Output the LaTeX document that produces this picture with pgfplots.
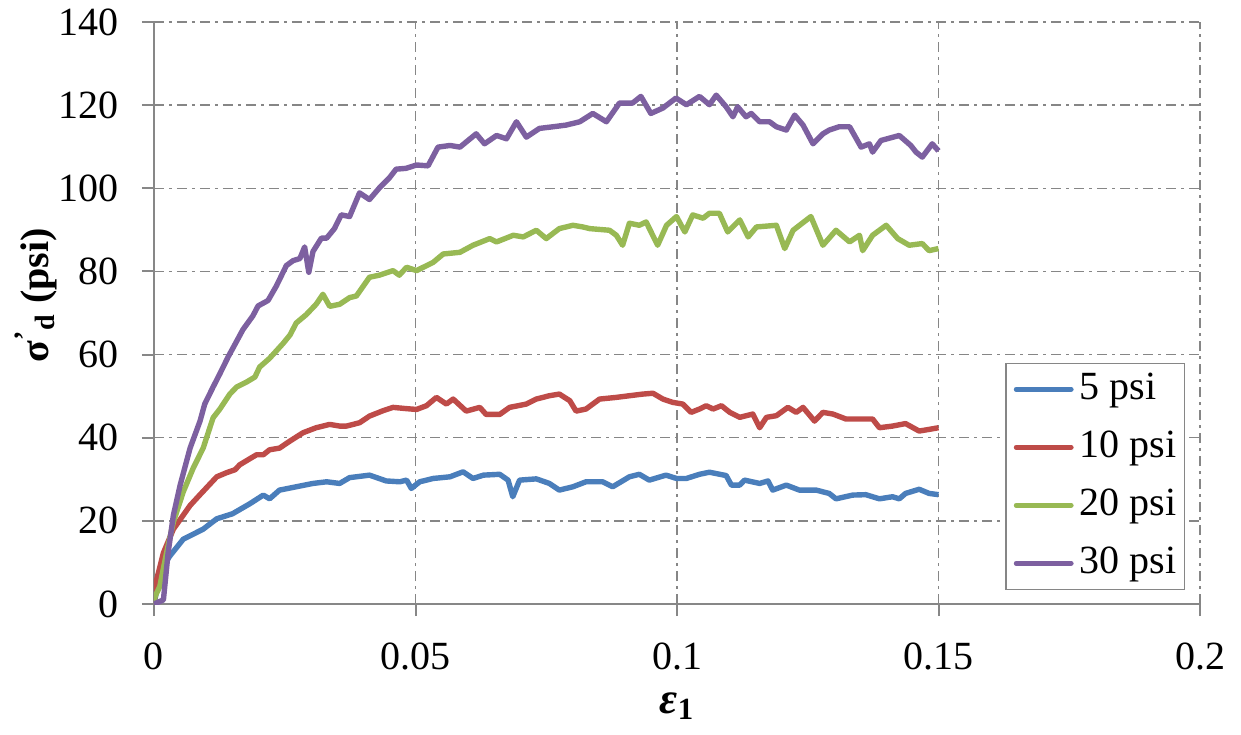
\documentclass[border=0pt]{standalone}
\usepackage{fontspec}
\setmainfont{Liberation Serif}
\usepackage{pgfplots}
\pgfplotsset{compat=1.18}
\definecolor{cblue}{HTML}{4A7EBB}
\definecolor{cred}{HTML}{BE4B48}
\definecolor{cgreen}{HTML}{98B954}
\definecolor{cpurple}{HTML}{7D60A0}
\definecolor{gridgray}{HTML}{868686}
\definecolor{axisgray}{HTML}{878787}
\begin{document}
\begin{tikzpicture}
\begin{axis}[
  at={(0,0)}, anchor=south west,
  scale only axis, width=523pt, height=291pt,
  xmin=0, xmax=0.2, ymin=0, ymax=140,
  xtick={0,0.05,0.1,0.15,0.2}, xticklabels={0,0.05,0.1,0.15,0.2},
  ytick={0,20,40,60,80,100,120,140},
  scaled x ticks=false,
  axis x line*=bottom, axis y line*=left,
  axis line style={draw=axisgray, line width=1pt},
  tick align=outside, major tick length=6pt,
  tick style={draw=axisgray, line width=1pt},
  grid=major,
  grid style={draw=gridgray, line width=0.65pt, dash pattern=on 5pt off 2.5pt on 1.5pt off 2.5pt},
  /pgf/number format/assume math mode=true,
  tick label style={font=\fontsize{20}{24}\selectfont},
  yticklabel style={xshift=-8pt},
  xticklabel style={yshift=-10pt},
  label style={font=\fontsize{20}{24}\selectfont\bfseries},
  xlabel={\fontsize{22}{24}\selectfont\textit{ε}\textsubscript{1}},
  ylabel={σ\textsuperscript{'}\textsubscript{d} (psi)},
  xlabel style={at={(axis description cs:0.5,-0.175)}, anchor=center},
  ylabel style={at={(axis description cs:-0.113,0.53)}, anchor=center, rotate=0},
  legend cell align=left,
  legend image code/.code={\draw[#1, line width=2.4pt, line cap=round] (0pt,0pt) -- (27.5pt,0pt);},
  legend style={at={(0.9857,0.024)}, anchor=south east, draw=gridgray, line width=0.75pt,
    fill=white, font=\fontsize{20}{24}\selectfont, inner xsep=4pt, inner ysep=4pt,
    nodes={inner sep=0pt, text height=14pt, text depth=4pt}, row sep=11pt,
    /tikz/every odd column/.append style={column sep=3pt}},
  every axis plot/.append style={line width=2.7pt, line join=round},
]
\addplot[cblue] coordinates {
(0,0) (0.0008,5) (0.0015,8.5) (0.003,11.5) (0.0056,15.6) (0.0094,18) (0.012,20.5) (0.015,21.7)
(0.0183,24.1) (0.0209,26.2) (0.0221,25.3) (0.024,27.4) (0.0272,28.2) (0.0304,29) (0.033,29.4)
(0.0355,29) (0.0374,30.4) (0.0412,31) (0.0444,29.6) (0.0470,29.4) (0.0483,29.8) (0.0492,27.8)
(0.0508,29.4) (0.0534,30.2) (0.0566,30.6) (0.0591,31.8) (0.0610,30.2) (0.0630,31) (0.0661,31.2)
(0.0677,29.8) (0.0686,25.8) (0.0699,29.8) (0.0731,30.1) (0.0756,29) (0.0775,27.4) (0.0801,28.2)
(0.0826,29.4) (0.0858,29.4) (0.0877,28.2) (0.0909,30.6) (0.0928,31.2) (0.0947,29.8) (0.0979,31)
(0.0999,30.2) (0.1018,30.2) (0.1043,31.2) (0.1062,31.7) (0.1094,30.9) (0.1104,28.6) (0.1120,28.6)
(0.1129,29.8) (0.1158,29) (0.1174,29.6) (0.1183,27.4) (0.1209,28.6) (0.1234,27.4) (0.1266,27.4)
(0.1291,26.6) (0.1304,25.3) (0.1336,26.2) (0.1361,26.3) (0.1387,25.3) (0.1412,25.8) (0.1425,25.3)
(0.1437,26.6) (0.1463,27.6) (0.1482,26.6) (0.15,26.3)
};
\addlegendentry{5 psi}
\addplot[cred] coordinates {
(0,0) (0.0005,5.8) (0.0018,12.3) (0.0037,18) (0.0069,23.7) (0.0088,26.3) (0.012,30.6) (0.0139,31.6)
(0.0155,32.3) (0.0164,33.5) (0.0196,35.9) (0.0209,35.9) (0.0221,37.1) (0.024,37.5) (0.026,39.2)
(0.0285,41.2) (0.031,42.4) (0.0336,43.2) (0.0355,42.8) (0.0368,42.8) (0.0393,43.6) (0.0412,45.2)
(0.0438,46.5) (0.0457,47.3) (0.0482,47.0) (0.0502,46.8) (0.0521,47.7) (0.054,49.7) (0.0559,48.1)
(0.0572,49.3) (0.0597,46.4) (0.0623,47.3) (0.0635,45.6) (0.0661,45.6) (0.0680,47.3) (0.0712,48.1)
(0.0731,49.3) (0.0756,50.1) (0.0775,50.5) (0.0795,48.9) (0.0807,46.4) (0.0826,46.9) (0.0852,49.3)
(0.0884,49.7) (0.0909,50.1) (0.0935,50.5) (0.0954,50.7) (0.0973,49.3) (0.0992,48.5) (0.1011,48.1)
(0.1027,46.1) (0.1043,46.9) (0.1056,47.7) (0.1069,46.9) (0.1085,47.7) (0.1101,46.1) (0.1120,44.9)
(0.1145,45.7) (0.1158,42.4) (0.1171,44.9) (0.119,45.3) (0.1212,47.3) (0.1228,46.1) (0.1241,47.3)
(0.1263,44.0) (0.1279,46.1) (0.1298,45.7) (0.1323,44.5) (0.1349,44.5) (0.1374,44.5) (0.1387,42.4)
(0.1412,42.8) (0.1437,43.4) (0.1463,41.6) (0.1482,42.0) (0.15,42.4)
};
\addlegendentry{10 psi}
\addplot[cgreen] coordinates {
(0,0) (0.0002,1.8) (0.0011,4.2) (0.0024,12.3) (0.0037,19.7) (0.0056,27) (0.0075,32.7) (0.0094,37.5)
(0.0113,44.8) (0.0126,46.9) (0.0145,50.5) (0.0158,52.2) (0.0177,53.4) (0.0193,54.6) (0.0202,57)
(0.0221,59.1) (0.0247,62.7) (0.026,64.7) (0.0272,67.6) (0.0291,69.6) (0.031,72.1) (0.0323,74.5)
(0.0336,71.6) (0.0355,72.1) (0.0374,73.7) (0.0387,74.1) (0.0412,78.6) (0.0431,79.1) (0.0457,80.2)
(0.0469,79.1) (0.0483,81) (0.0502,80.2) (0.0534,82.2) (0.0553,84.2) (0.0585,84.6) (0.061,86.3)
(0.0642,87.9) (0.0655,87.1) (0.0687,88.7) (0.0706,88.3) (0.0731,89.9) (0.0750,87.9) (0.0775,90.3)
(0.0801,91.1) (0.082,90.7) (0.0833,90.3) (0.0871,89.9) (0.0884,88.7) (0.0896,86.3) (0.0909,91.6)
(0.0928,91.1) (0.0941,91.9) (0.0963,86.3) (0.0980,91.1) (0.0999,93.2) (0.1015,89.5) (0.1030,93.6)
(0.105,92.8) (0.1062,94) (0.1081,94) (0.1097,89.5) (0.112,92.4) (0.1136,88.3) (0.1152,90.7)
(0.119,91.1) (0.1206,85.5) (0.1222,89.9) (0.1256,93.2) (0.1279,86.3) (0.1304,89.9) (0.1330,87.1)
(0.1349,88.7) (0.1355,85.0) (0.1374,88.7) (0.14,91.1) (0.1422,87.9) (0.1444,86.3) (0.1469,86.7)
(0.1482,85.0) (0.15,85.5)
};
\addlegendentry{20 psi}
\addplot[cpurple] coordinates {
(0,0) (0.0018,1) (0.0027,12.3) (0.0037,21.3) (0.005,28.6) (0.0069,37.5) (0.0088,44) (0.0097,48.1)
(0.0113,52.2) (0.0126,55.4) (0.0142,59.5) (0.0158,63.2) (0.0170,66) (0.0189,69.3) (0.0199,71.7)
(0.0218,73) (0.0234,76.5) (0.0253,81.4) (0.0266,82.6) (0.0279,83.1) (0.0288,85.9) (0.0296,79.8)
(0.0304,84.8) (0.032,88) (0.033,88) (0.0345,90.3) (0.0358,93.6) (0.0374,93.2) (0.0393,98.9)
(0.0412,97.3) (0.0431,100.1) (0.045,102.5) (0.0463,104.6) (0.0482,104.8) (0.0502,105.6) (0.0524,105.4)
(0.0543,109.9) (0.0566,110.3) (0.0585,109.9) (0.0616,113.1) (0.0632,110.7) (0.0655,112.7) (0.0674,111.9)
(0.0693,116) (0.0712,112.3) (0.0737,114.4) (0.0763,114.8) (0.0788,115.2) (0.0814,116) (0.0839,118)
(0.0865,116) (0.089,120.5) (0.0915,120.5) (0.0931,122.1) (0.095,118) (0.0973,119.3) (0.0998,121.7)
(0.1018,120.1) (0.1043,122.1) (0.1062,120.1) (0.1075,122.4) (0.1094,119.6) (0.1107,117.2) (0.1116,119.6)
(0.1132,117.2) (0.1142,118) (0.1158,116) (0.1177,116) (0.119,114.8) (0.1209,114) (0.1225,117.6)
(0.1241,115.2) (0.126,110.7) (0.1279,113.1) (0.1291,114) (0.131,114.8) (0.133,114.8) (0.1352,109.9)
(0.1368,110.7) (0.1374,108.7) (0.139,111.5) (0.1425,112.7) (0.1447,110.3) (0.1457,108.7) (0.1469,107.5)
(0.1488,110.7) (0.15,109)
};
\addlegendentry{30 psi}
\end{axis}
\pgfresetboundingbox
\path[use as bounding box] (-77pt,-65pt) rectangle (543.5pt,302pt);
\end{tikzpicture}
\end{document}
